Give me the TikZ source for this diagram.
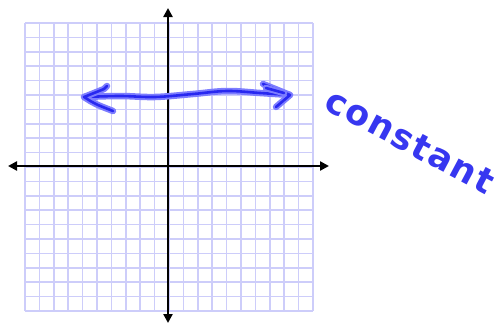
\documentclass[tikz,border=0pt]{standalone}
\usepackage{fontspec}
\usepackage{xcolor}
\usepackage{tikz}
\usetikzlibrary{arrows.meta}
\newfontfamily\handfont[LetterSpace=5]{DejaVu Sans}
\definecolor{gridblue}{RGB}{205,205,250}
\definecolor{penblue}{RGB}{40,40,240}
\definecolor{penhalo}{RGB}{125,125,255}
\definecolor{inkblue}{RGB}{55,55,240}

\begin{document}
\begin{tikzpicture}[
  x=1pt, y=-1pt,
  gridline/.style={draw=gridblue, line width=1.6pt},
  axis/.style={line width=2.8pt, black, {Triangle[length=9pt,width=9pt]}-{Triangle[length=9pt,width=9pt]}},
  marker/.style={draw=penblue, line width=2.6pt, line cap=round, line join=round,
    preaction={draw=penhalo, line width=6.5pt, line cap=round, line join=round}},
  hand/.style={font=\handfont\bfseries\fontsize{35}{35}\selectfont, text=inkblue, inner sep=0pt}
]
\useasboundingbox (0,0) rectangle (501,324);

% grid paper
\foreach \i in {0,...,20} {
  \draw[gridline] ({25+14.4*\i},23) -- ++(0,288);
  \draw[gridline] (25,{23+14.4*\i}) -- ++(288,0);
}

% axes
\coordinate (xl) at (8,166);
\coordinate (xr) at (329,166);
\coordinate (yt) at (168,8);
\coordinate (yb) at (168,323);
\draw[axis] (xl) -- (xr);
\draw[axis] (yt) -- (yb);

% constant line
\coordinate (lt) at (84,97);
\coordinate (rt) at (290,95);
\draw[marker] plot[smooth, tension=0.6] coordinates {(lt) (120,96) (155,97) (193,94) (227,91) (260,93) (rt)};
\draw[marker] (107,86) -- (104,89) -- (lt) .. controls (95,104) .. (113,111);
\draw[marker] (263,84) -- (rt) -- (276,107);
\draw[marker] (266,88) -- (284,93);

\node[hand, rotate=-28] (lbl) at (410,141) {constant};
\end{tikzpicture}
\end{document}
